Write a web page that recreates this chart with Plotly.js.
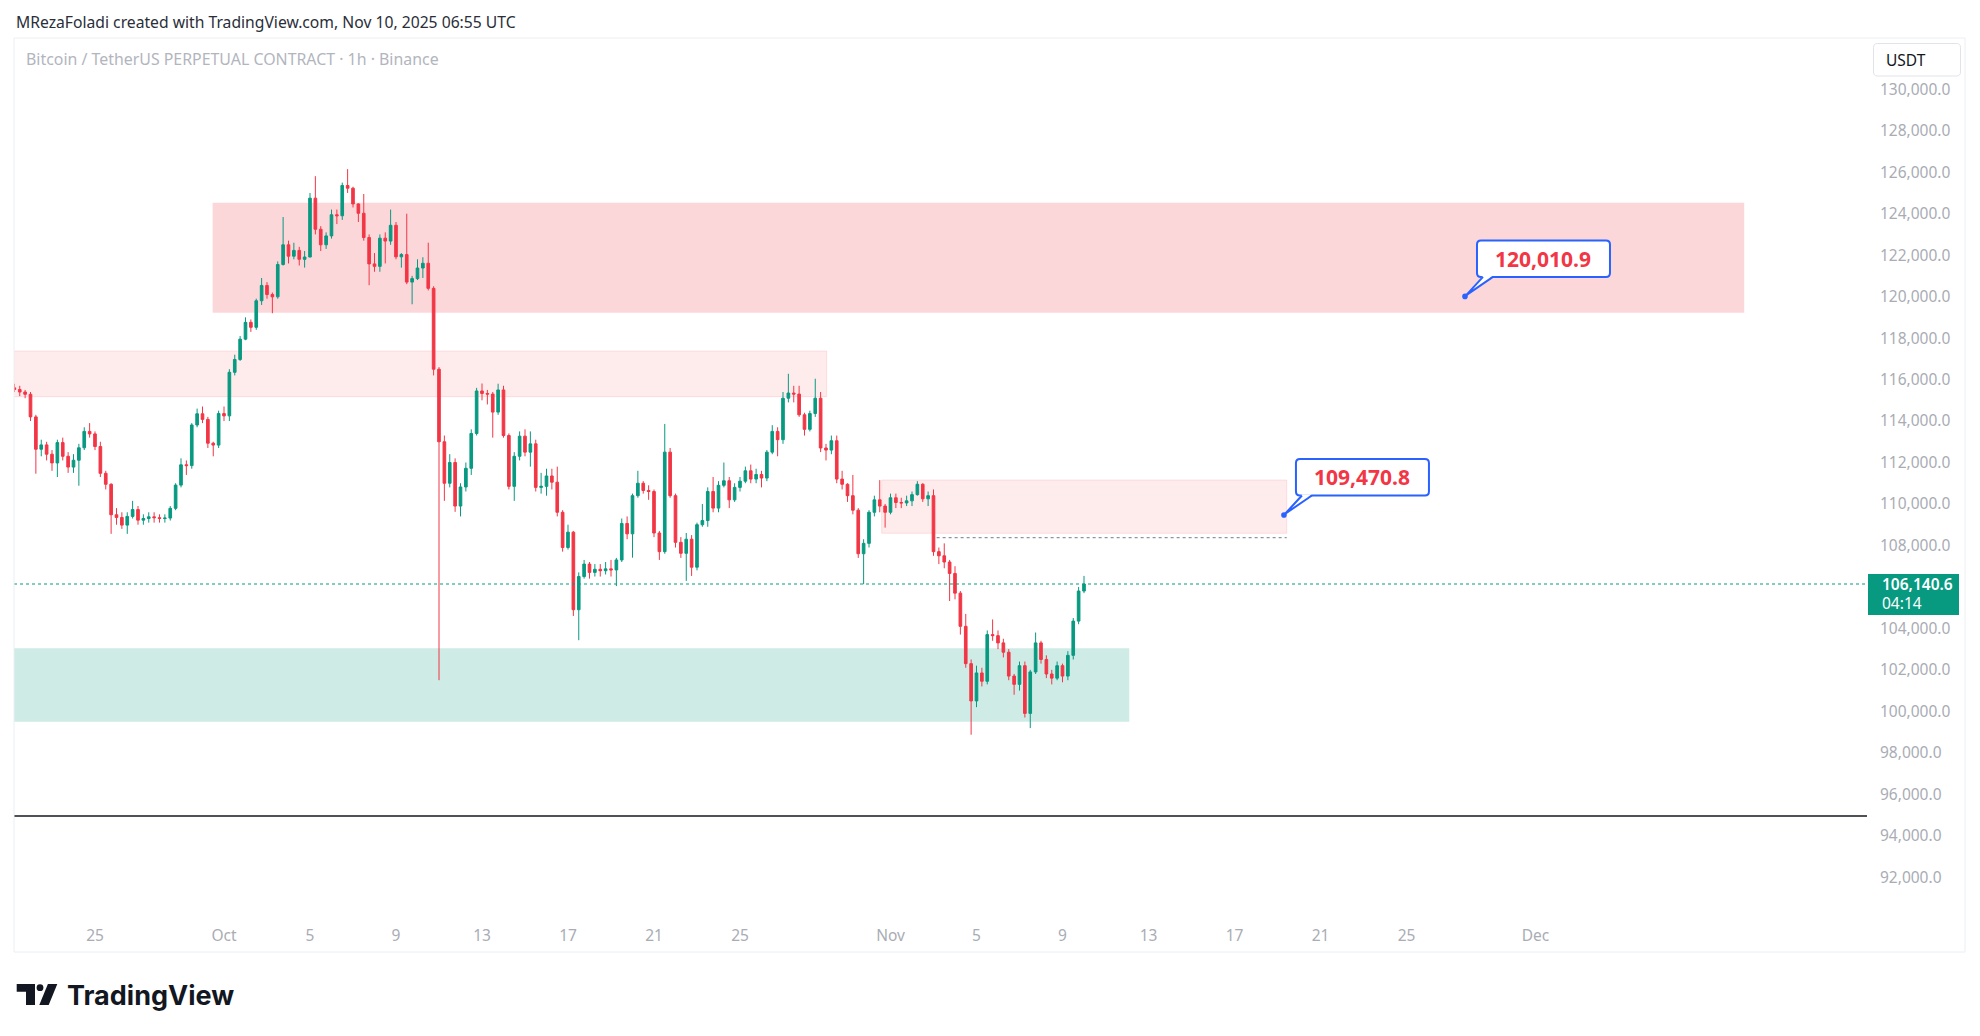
<!DOCTYPE html>
<html><head><meta charset="utf-8">
<script src="https://cdn.plot.ly/plotly-3.0.1.min.js"></script>
<style>html,body{margin:0;padding:0;background:#fff;}#chart{width:1980px;height:1036px;}</style>
</head><body><div id="chart"></div>
<script>
// ---------- DATA (BTCUSDT perpetual, 6h candles) ----------
const candleStart = '2025-09-21 06:00';
const candleStepHours = 6;
const firstOpen = 115600;
const closes = [115520,115400,115290,114200,112640,112850,112400,111980,112960,112300,
111780,112110,112710,113500,113380,112770,111480,110950,109480,109350,
108980,109400,109730,109220,109300,109380,109340,109300,109320,109790,
110910,111890,111850,113810,114350,114080,112930,112840,114360,114250,
116350,116970,117950,118760,118520,119800,120540,120100,119990,121550,
122500,121950,122230,121800,121910,124750,123250,122500,122930,123950,
123900,125360,125230,124470,124020,122850,121580,121460,122820,122680,
123440,121920,122030,120700,120870,121380,121610,120400,116500,113000,
111000,112000,109900,110820,111720,113400,115450,115330,115300,114430,
115500,113300,110850,112300,113270,112500,112900,110800,110850,111350,
111050,109600,107900,108640,104900,106500,107100,106700,106850,106780,
106870,106820,107300,109060,108560,110400,111000,110650,110600,108600,
107700,112500,110400,108150,107620,108300,106950,109000,109200,110600,
109800,110900,111120,110200,110800,111100,111600,111200,111420,111250,
112500,113500,113100,115100,115350,115300,114300,113600,114360,115100,
112700,112600,113050,111200,110950,110400,109700,107600,108100,109600,
110200,109900,109600,110300,110070,110050,110150,110450,110950,110250,
110400,107700,107500,107200,106650,105700,104100,102300,100500,101850,
101450,103700,103650,103300,102850,101700,101300,102200,99900,101900,
103300,102500,101800,101600,102200,101700,102700,104350,105800,106140];
const highs = [115800,115700,115500,115400,114300,113100,113000,112600,113100,113200,
112500,112400,112900,113700,113900,113500,113000,111600,111000,109800,
109600,109600,110150,109900,109500,109600,109600,109500,109500,109900,
111000,112200,112100,113900,114600,114700,114200,113000,114500,114700,
116500,117200,118100,119000,118900,119900,120900,120700,120200,121700,
123840,122700,122600,122400,122200,125000,125810,123400,123100,124200,
124200,125500,126150,125300,124500,124950,123000,122100,123000,123100,
124200,123600,122100,124000,121000,121800,121900,122600,120500,116600,
113300,112400,112200,111000,112000,113600,115600,115810,115500,115400,
115800,115700,113400,112500,113500,113600,113500,113100,111500,111700,
111700,111800,109700,109000,108700,106700,107300,107200,107100,107100,
107200,107300,107400,109300,109400,110500,111600,111100,110900,110700,
108700,113860,112700,110500,108400,108600,108500,109100,110000,110800,
111300,111100,112000,111300,111000,111300,111800,111900,111700,111600,
112600,113800,113700,115400,116280,115700,115700,114400,114500,116040,
115400,112900,113300,113300,111600,111000,111400,109800,108300,109700,
110400,111150,110000,110500,110500,110300,110400,110600,111100,111000,
110600,110700,107900,108100,107300,107000,105800,104700,102500,102200,
102100,103900,104430,103900,103500,103000,101800,102400,102400,102000,
103800,103400,102700,102000,102400,102300,102900,104500,106000,106530];
const lows = [115400,115200,115100,114000,111460,112300,112100,111600,111300,112100,
111500,111500,110880,112600,113200,112600,111300,110700,108560,109000,
108800,108560,109300,109000,109000,109100,109100,109100,109100,109200,
109700,110800,111400,111700,113700,113900,112700,112300,112700,114000,
114000,116200,116900,117900,118300,118400,119600,119900,119200,119900,
121500,121600,121800,121500,121400,121900,123000,122200,122300,122800,
123500,123700,125000,124300,123600,122700,120550,121200,121200,121600,
122500,121800,121400,120600,119630,120800,120900,120300,116200,101500,
110150,110800,109620,109400,110600,111400,113300,115000,114800,113200,
114300,113200,110700,110150,112100,112300,111800,110600,110500,110400,
110700,109400,107700,107800,104600,103430,106400,106400,106500,106500,
106600,106500,106040,107200,108300,107410,110300,110500,110200,108400,
107300,107600,110300,107900,107400,106290,106530,106800,108900,108900,
109600,109600,110800,109800,110100,110600,111000,111000,111000,110800,
111100,112400,112300,112900,114900,114900,114200,113300,113500,114200,
112500,112100,112400,111000,110700,110100,109500,107400,106130,107900,
109400,109600,108860,109500,109800,109800,109900,109900,110400,110100,
109900,107500,107100,106900,105320,105400,103700,102100,98870,100200,
101200,101300,103400,103000,102600,101500,100800,101000,99700,99190,
101800,102300,101600,101300,101500,101400,101500,102500,104200,105700];

// axis ticks (106,000.0 is hidden behind the last-price tag in the original)
const yTicks = [92000,94000,96000,98000,100000,102000,104000,108000,110000,
112000,114000,116000,118000,120000,122000,124000,126000,128000,130000];
const xTickDates = ['2025-09-25','2025-10-01','2025-10-05','2025-10-09','2025-10-13','2025-10-17',
'2025-10-21','2025-10-25','2025-11-01','2025-11-05','2025-11-09','2025-11-13','2025-11-17',
'2025-11-21','2025-11-25','2025-12-01'];
const xTickLabels = ['25','Oct','5','9','13','17','21','25','Nov','5','9','13','17','21','25','Dec'];

// zones [start, end, low, high]
const zoneUpper = ['2025-09-30 11:20','2025-12-10 17:00',119225,124530];
const zoneMid = ['2025-09-10 00:00','2025-10-29 00:45',115174,117378];
const zoneRight = ['2025-10-31 14:10','2025-11-19 10:20',108586,111157];
const zoneSupport = ['2025-09-10 00:00','2025-11-12 02:30',99500,103040];
const grayLevel = ['2025-11-03 03:30','2025-11-19 10:20',108374];
const blackLevel = 94950;
const lastPrice = 106140.6;
const lastPriceText = '106,140.6';
const countdownText = '04:14';
const callouts = [
  {t:'2025-11-27 17:17', p:120010.9, text:'120,010.9'},
  {t:'2025-11-19 07:12', p:109470.8, text:'109,470.8'}
];
const xRange = ['2025-09-21 05:35','2025-12-16 10:03'];
const yRange = [90128,132474];

// ---------- BUILD ----------
function fmt(d){const p=n=>String(n).padStart(2,'0');
  return d.getUTCFullYear()+'-'+p(d.getUTCMonth()+1)+'-'+p(d.getUTCDate())+' '+p(d.getUTCHours())+':'+p(d.getUTCMinutes());}
const t0 = Date.UTC(2025,8,21,6,0);
const times = closes.map((_,k)=>fmt(new Date(t0 + k*candleStepHours*3600e3)));
const opens = closes.map((c,k)=> k===0 ? firstOpen : closes[k-1]);

const L=14, R=1867, T=38, B=916;
const px = x => (x-L)/(R-L);
const py = y => (B-y)/(B-T);
function pp(x,y){return px(x).toFixed(5)+','+py(y).toFixed(5);}
function roundRect(x0,y0,x1,y1,r){
  return 'M'+pp(x0+r,y0)+' L'+pp(x1-r,y0)+' Q'+pp(x1,y0)+' '+pp(x1,y0+r)+
    ' L'+pp(x1,y1-r)+' Q'+pp(x1,y1)+' '+pp(x1-r,y1)+' L'+pp(x0+r,y1)+
    ' Q'+pp(x0,y1)+' '+pp(x0,y1-r)+' L'+pp(x0,y0+r)+' Q'+pp(x0,y0)+' '+pp(x0+r,y0)+' Z';
}
const FONT = 'Noto Sans, sans-serif';
const axisGray = '#a9acb4';

const shapes = [];
function zone(z, fill, line){
  shapes.push({type:'rect', xref:'x', yref:'y', x0:z[0], x1:z[1], y0:z[2], y1:z[3],
    fillcolor:fill, line:{color:line, width:1}, layer:'below'});
}
zone(zoneUpper,'rgba(242,54,69,0.2)','rgba(242,54,69,0)');
zone(zoneMid,'rgba(242,54,69,0.1)','rgba(242,54,69,0.12)');
zone(zoneRight,'rgba(242,54,69,0.1)','rgba(242,54,69,0.12)');
zone(zoneSupport,'rgba(8,153,129,0.2)','rgba(8,153,129,0)');
shapes.push({type:'line', xref:'x', yref:'y', x0:grayLevel[0], x1:grayLevel[1], y0:grayLevel[2], y1:grayLevel[2],
  line:{color:'#787b86', width:1, dash:'dot'}, layer:'above'});
shapes.push({type:'line', xref:'paper', yref:'y', x0:0, x1:1, y0:blackLevel, y1:blackLevel,
  line:{color:'#131722', width:1.3}, layer:'above'});
shapes.push({type:'line', xref:'paper', yref:'y', x0:0, x1:1, y0:lastPrice, y1:lastPrice,
  line:{color:'#089981', width:1, dash:'dot'}, layer:'above'});

const annotations = [];
callouts.forEach(c=>{
  const base = {xref:'x', yref:'y', xsizemode:'pixel', ysizemode:'pixel', xanchor:c.t, yanchor:c.p, layer:'above'};
  shapes.push(Object.assign({}, base, {type:'path',
    path:'M 16,19.5 L 141,19.5 Q 145,19.5 145,23.5 L 145,52 Q 145,56 141,56 L 16,56 Q 12,56 12,52 L 12,23.5 Q 12,19.5 16,19.5 Z',
    fillcolor:'#ffffff', line:{color:'#2962ff', width:2}}));
  shapes.push(Object.assign({}, base, {type:'path', path:'M 1,1 L 18,20.6 L 28,20.6 Z',
    fillcolor:'#ffffff', line:{width:0}}));
  shapes.push(Object.assign({}, base, {type:'path', path:'M 18,19.5 L 1,1 L 28,19.5',
    line:{color:'#2962ff', width:2}}));
  shapes.push(Object.assign({}, base, {type:'circle', x0:-2.8, x1:2.8, y0:-2.8, y1:2.8,
    fillcolor:'#2962ff', line:{width:0}}));
  annotations.push({xref:'x', yref:'y', x:c.t, y:c.p, xshift:78.5, yshift:37.7, showarrow:false,
    xanchor:'center', yanchor:'middle', text:c.text,
    font:{family:FONT, size:21, color:'#f23645', weight:700}});
});

// last price tag on the price scale
shapes.push({type:'rect', xref:'paper', yref:'y', ysizemode:'pixel', yanchor:lastPrice,
  x0:px(1868), x1:px(1959), y0:-31, y1:10, fillcolor:'#089981', line:{width:0}, layer:'above'});
annotations.push({xref:'paper', yref:'y', x:px(1880), y:lastPrice, yshift:0, xanchor:'left', yanchor:'middle',
  showarrow:false, text:lastPriceText, font:{family:FONT, size:15.5, color:'#ffffff', weight:600}});
annotations.push({xref:'paper', yref:'y', x:px(1880), y:lastPrice, yshift:-18.5, xanchor:'left', yanchor:'middle',
  showarrow:false, text:countdownText, font:{family:FONT, size:15.5, color:'#ffffff'}});

// frame, currency box
shapes.push({type:'rect', xref:'paper', yref:'paper', x0:px(14), x1:px(1965), y0:py(38), y1:py(952),
  line:{color:'#eceef2', width:1}, fillcolor:'rgba(0,0,0,0)', layer:'above'});
shapes.push({type:'path', xref:'paper', yref:'paper', path:roundRect(1873.5,43.5,1960.5,76,4),
  line:{color:'#e0e3eb', width:1}, fillcolor:'#ffffff', layer:'above'});
annotations.push({xref:'paper', yref:'paper', x:px(1884), y:py(59.5), xanchor:'left', yanchor:'middle',
  showarrow:false, text:'USDT', font:{family:FONT, size:15.5, color:'#131722'}});

// header texts
annotations.push({xref:'paper', yref:'paper', x:px(13.5), y:py(21.5), xanchor:'left', yanchor:'middle',
  showarrow:false, text:'MRezaFoladi created with TradingView.com, Nov 10, 2025 06:55 UTC',
  font:{family:FONT, size:15.7, color:'#2a2e39'}});
annotations.push({xref:'paper', yref:'paper', x:px(24), y:py(59), xanchor:'left', yanchor:'middle',
  showarrow:false, text:'Bitcoin / TetherUS PERPETUAL CONTRACT · 1h · Binance',
  font:{family:FONT, size:15.9, color:'#b2b5be'}});

// TradingView logo
shapes.push({type:'path', xref:'paper', yref:'paper',
  path:'M'+pp(16.7,984)+' L'+pp(35,984)+' L'+pp(35,1005)+' L'+pp(26,1005)+' L'+pp(26,991.7)+' L'+pp(16.7,991.7)+' Z',
  fillcolor:'#131722', line:{width:0}, layer:'above'});
shapes.push({type:'circle', xref:'paper', yref:'paper', x0:px(36.6), x1:px(43.4), y0:py(984.3), y1:py(991.1),
  fillcolor:'#131722', line:{width:0}, layer:'above'});
shapes.push({type:'path', xref:'paper', yref:'paper',
  path:'M'+pp(47.9,984)+' L'+pp(57.3,984)+' L'+pp(48.7,1005)+' L'+pp(39.3,1005)+' Z',
  fillcolor:'#131722', line:{width:0}, layer:'above'});
annotations.push({xref:'paper', yref:'paper', x:px(65), y:py(996), xanchor:'left', yanchor:'middle',
  showarrow:false, text:'TradingView', font:{family:'Inter, Noto Sans, sans-serif', size:27, color:'#131722', weight:700}});

const trace = {type:'candlestick', x:times, open:opens, high:highs, low:lows, close:closes,
  increasing:{line:{color:'#089981', width:1}, fillcolor:'#089981'},
  decreasing:{line:{color:'#f23645', width:1}, fillcolor:'#f23645'},
  whiskerwidth:0, hoverinfo:'skip', showlegend:false};

const layout = {
  width:1980, height:1036, autosize:false,
  margin:{l:L, r:1980-R, t:T, b:1036-B, pad:0},
  paper_bgcolor:'#ffffff', plot_bgcolor:'#ffffff',
  showlegend:false, hovermode:false, dragmode:false,
  font:{family:FONT, size:15.5, color:axisGray},
  xaxis:{type:'date', range:xRange, rangeslider:{visible:false}, showgrid:false, zeroline:false,
    showline:false, ticks:'', tickmode:'array', tickvals:xTickDates, ticktext:xTickLabels,
    tickfont:{family:FONT, size:15.5, color:axisGray}, ticklabelstandoff:8, fixedrange:true},
  yaxis:{side:'right', range:yRange, showgrid:false, zeroline:false, showline:false, ticks:'',
    tickmode:'array', tickvals:yTicks, tickformat:',.1f',
    tickfont:{family:FONT, size:15.5, color:axisGray}, ticklabelstandoff:12, fixedrange:true},
  shapes:shapes, annotations:annotations
};
Plotly.newPlot('chart',[trace],layout,{displayModeBar:false, staticPlot:true});
</script></body></html>
